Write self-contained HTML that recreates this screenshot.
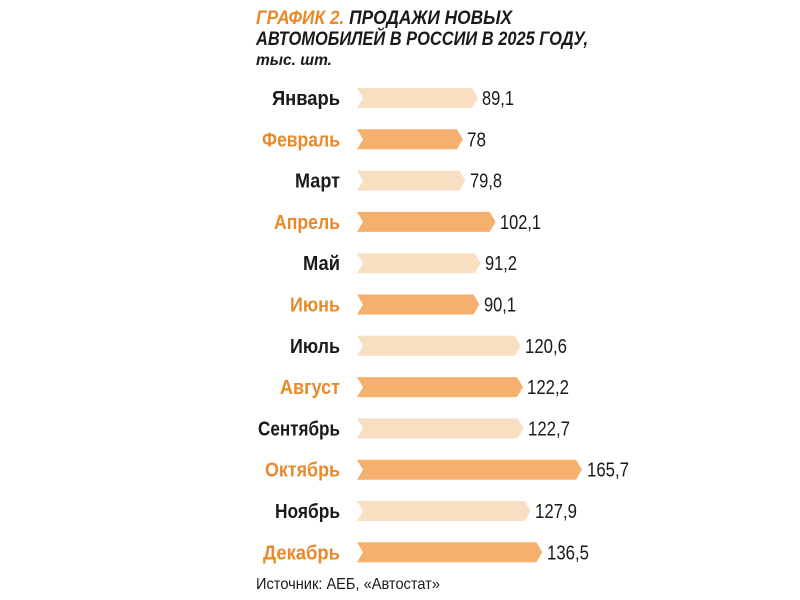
<!DOCTYPE html>
<html><head><meta charset="utf-8"><style>
html,body{margin:0;padding:0;background:#fff;}
svg{display:block}
text{font-family:"Liberation Sans",sans-serif;}
</style></head><body>
<svg width="800" height="600" xmlns="http://www.w3.org/2000/svg">
<g font-weight="bold" font-style="italic" font-size="19" fill="#1a1a1a">
<text x="256" y="24" textLength="256" lengthAdjust="spacingAndGlyphs"><tspan fill="#e8892a">ГРАФИК 2.</tspan> ПРОДАЖИ НОВЫХ</text>
<text x="256" y="45" textLength="332" lengthAdjust="spacingAndGlyphs">АВТОМОБИЛЕЙ В РОССИИ В 2025 ГОДУ,</text>
<text x="256" y="65" font-size="16" textLength="76" lengthAdjust="spacingAndGlyphs">тыс. шт.</text>
</g>
<g fill="#f9dfc2">
<polygon points="357,88 472,88 478,98 472,108 357,108 363,98"/>
<polygon points="357,170.6 459.4,170.6 465.4,180.6 459.4,190.6 357,190.6 363,180.6"/>
<polygon points="357,253.2 474.8,253.2 480.8,263.2 474.8,273.2 357,273.2 363,263.2"/>
<polygon points="357,335.8 514.8,335.8 520.8,345.8 514.8,355.8 357,355.8 363,345.8"/>
<polygon points="357,418.4 517.6,418.4 523.6,428.4 517.6,438.4 357,438.4 363,428.4"/>
<polygon points="357,501 524.7,501 530.7,511 524.7,521 357,521 363,511"/>
</g>
<g fill="#f6b06e">
<polygon points="357,129.3 456.9,129.3 462.9,139.3 456.9,149.3 357,149.3 363,139.3"/>
<polygon points="357,211.9 489.7,211.9 495.7,221.9 489.7,231.9 357,231.9 363,221.9"/>
<polygon points="357,294.5 473.4,294.5 479.4,304.5 473.4,314.5 357,314.5 363,304.5"/>
<polygon points="357,377.1 517,377.1 523,387.1 517,397.1 357,397.1 363,387.1"/>
<polygon points="357,459.7 576,459.7 582,469.7 576,479.7 357,479.7 363,469.7"/>
<polygon points="357,542.3 536.4,542.3 542.4,552.3 536.4,562.3 357,562.3 363,552.3"/>
</g>
<g font-size="20" font-weight="bold" text-anchor="end" fill="#1a1a1a">
<text x="340" y="105" textLength="68" lengthAdjust="spacingAndGlyphs">Январь</text>
<text x="340" y="146.3" fill="#e8892a" textLength="78" lengthAdjust="spacingAndGlyphs">Февраль</text>
<text x="340" y="187.6" textLength="45" lengthAdjust="spacingAndGlyphs">Март</text>
<text x="340" y="228.9" fill="#e8892a" textLength="66" lengthAdjust="spacingAndGlyphs">Апрель</text>
<text x="340" y="270.2" textLength="37" lengthAdjust="spacingAndGlyphs">Май</text>
<text x="340" y="311.5" fill="#e8892a" textLength="50" lengthAdjust="spacingAndGlyphs">Июнь</text>
<text x="340" y="352.8" textLength="50" lengthAdjust="spacingAndGlyphs">Июль</text>
<text x="340" y="394.1" fill="#e8892a" textLength="60" lengthAdjust="spacingAndGlyphs">Август</text>
<text x="340" y="435.4" textLength="82" lengthAdjust="spacingAndGlyphs">Сентябрь</text>
<text x="340" y="476.7" fill="#e8892a" textLength="75" lengthAdjust="spacingAndGlyphs">Октябрь</text>
<text x="340" y="518" textLength="65" lengthAdjust="spacingAndGlyphs">Ноябрь</text>
<text x="340" y="559.3" fill="#e8892a" textLength="77" lengthAdjust="spacingAndGlyphs">Декабрь</text>
</g>
<g font-size="20" fill="#1a1a1a">
<text x="482" y="105" textLength="32" lengthAdjust="spacingAndGlyphs">89,1</text>
<text x="467" y="146.3" textLength="19" lengthAdjust="spacingAndGlyphs">78</text>
<text x="470" y="187.6" textLength="32" lengthAdjust="spacingAndGlyphs">79,8</text>
<text x="500" y="228.9" textLength="41" lengthAdjust="spacingAndGlyphs">102,1</text>
<text x="485" y="270.2" textLength="32" lengthAdjust="spacingAndGlyphs">91,2</text>
<text x="484" y="311.5" textLength="32" lengthAdjust="spacingAndGlyphs">90,1</text>
<text x="525" y="352.8" textLength="42" lengthAdjust="spacingAndGlyphs">120,6</text>
<text x="527" y="394.1" textLength="42" lengthAdjust="spacingAndGlyphs">122,2</text>
<text x="528" y="435.4" textLength="42" lengthAdjust="spacingAndGlyphs">122,7</text>
<text x="587" y="476.7" textLength="42" lengthAdjust="spacingAndGlyphs">165,7</text>
<text x="535" y="518" textLength="42" lengthAdjust="spacingAndGlyphs">127,9</text>
<text x="547" y="559.3" textLength="42" lengthAdjust="spacingAndGlyphs">136,5</text>
</g>
<text x="256" y="589" font-size="16" fill="#1a1a1a" textLength="184" lengthAdjust="spacingAndGlyphs">Источник: АЕБ, «Автостат»</text>
</svg>
</body></html>
